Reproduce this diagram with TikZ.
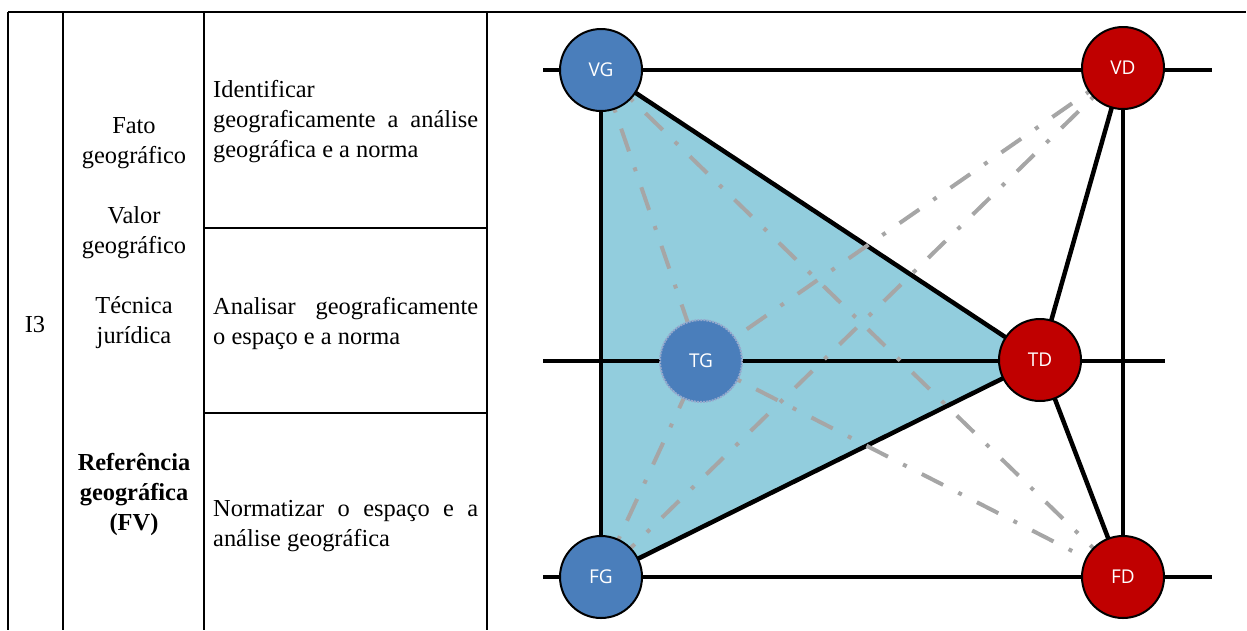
\documentclass[tikz,border=0pt]{standalone}
\usepackage{fontspec}
\setmainfont{Liberation Serif}
\newfontfamily\circfont{Open Sans}
\definecolor{nodeblue}{RGB}{74,126,187}
\definecolor{nodered}{RGB}{192,0,0}
\definecolor{triblue}{RGB}{146,205,221}
\definecolor{graydash}{RGB}{166,166,166}
\definecolor{tgedge}{RGB}{150,170,205}
\pgfdeclarelayer{bg}
\pgfdeclarelayer{mid}
\pgfsetlayers{bg,mid,main}
\begin{document}
\begin{tikzpicture}[x=1pt,y=-1pt,
  tbl/.style={line width=2pt},
  cell/.style={font=\fontsize{24.4}{30}\selectfont, inner sep=0pt},
  gnode/.style={circle, minimum size=82pt, inner sep=0pt, fill=nodeblue, draw=black, line width=2pt, text=white, font=\circfont\fontsize{19}{21}\selectfont},
  rnode/.style={gnode, fill=nodered},
  blk/.style={line width=4.5pt},
  gry/.style={draw=graydash, line width=4pt, dash pattern=on 24pt off 17pt on 4pt off 17pt}]
\useasboundingbox (0,0) rectangle (1247,630);

% table
\coordinate (tl) at (8,12);
\coordinate (tr) at (1246,12);
\coordinate (b1) at (8,630);
\coordinate (c1t) at (63,12);   \coordinate (c1b) at (63,630);
\coordinate (c2t) at (204,12);  \coordinate (c2b) at (204,630);
\coordinate (c3t) at (487,12);  \coordinate (c3b) at (487,630);
\coordinate (r1l) at (204,228); \coordinate (r1r) at (487,228);
\coordinate (r2l) at (204,413); \coordinate (r2r) at (487,413);
\draw[tbl] (tl) -- (tr);
\draw[tbl] (tl) -- (b1);
\draw[tbl] (c1t) -- (c1b);
\draw[tbl] (c2t) -- (c2b);
\draw[tbl] (c3t) -- (c3b);
\draw[tbl] (r1l) -- (r1r);
\draw[tbl] (r2l) -- (r2r);

\node[cell] (i3) at (35,325) {I3};
\node[cell, align=center] (crit) at (134,233) {Fato\\geográfico\\[30pt]Valor\\geográfico\\[30pt]Técnica\\jurídica};
\node[cell, align=center, font=\fontsize{24.4}{30}\selectfont\bfseries] (ref) at (134,494) {Referência\\geográfica\\(FV)};
\node[cell, align=left, anchor=west] (t1) at (213,122) {Identificar\\\makebox[265pt][s]{geograficamente a análise}\\geográfica e a norma};
\node[cell, align=left, anchor=west] (t2) at (213,323) {\makebox[265pt][s]{Analisar geograficamente}\\o espaço e a norma};
\node[cell, align=left, anchor=west] (t3) at (213,526) {\makebox[265pt][s]{Normatizar o espaço e a}\\análise geográfica};

% diagram nodes
\node[gnode] (VG) at (601,70) {VG};
\node[rnode] (VD) at (1123,68) {VD};
\node[gnode, draw=tgedge, densely dotted] (TG) at (701,361) {TG};
\node[rnode] (TD) at (1040,360) {TD};
\node[gnode] (FG) at (601,577) {FG};
\node[rnode] (FD) at (1123,577) {FD};

\coordinate (h1l) at (543,70);  \coordinate (h1r) at (1212,70);
\coordinate (h2l) at (543,361); \coordinate (h2r) at (1165,361);
\coordinate (h3l) at (543,577); \coordinate (h3r) at (1212,577);

\begin{pgfonlayer}{bg}
\fill[triblue] (VG.center) -- (TD.center) -- (FG.center) -- cycle;
\draw[blk] (h1l) -- (h1r);
\draw[blk] (h2l) -- (h2r);
\draw[blk] (h3l) -- (h3r);
\draw[blk] (VG.center) -- (FG.center);
\draw[blk] (VD.center) -- (FD.center);
\draw[blk] (VG.center) -- (TD.center);
\draw[blk] (FG.center) -- (TD.center);
\draw[blk] (VD.center) -- (TD.center);
\draw[blk] (TD.center) -- (FD.center);
\end{pgfonlayer}
\begin{pgfonlayer}{mid}
\draw[gry] (VG.center) -- (TG.center);
\draw[gry] (VG.center) -- (FD.center);
\draw[gry] (VD.center) -- (TG.center);
\draw[gry] (VD.center) -- (FG.center);
\draw[gry] (FG.center) -- (TG.center);
\draw[gry] (TG.center) -- (FD.center);
\end{pgfonlayer}
\end{tikzpicture}
\end{document}
